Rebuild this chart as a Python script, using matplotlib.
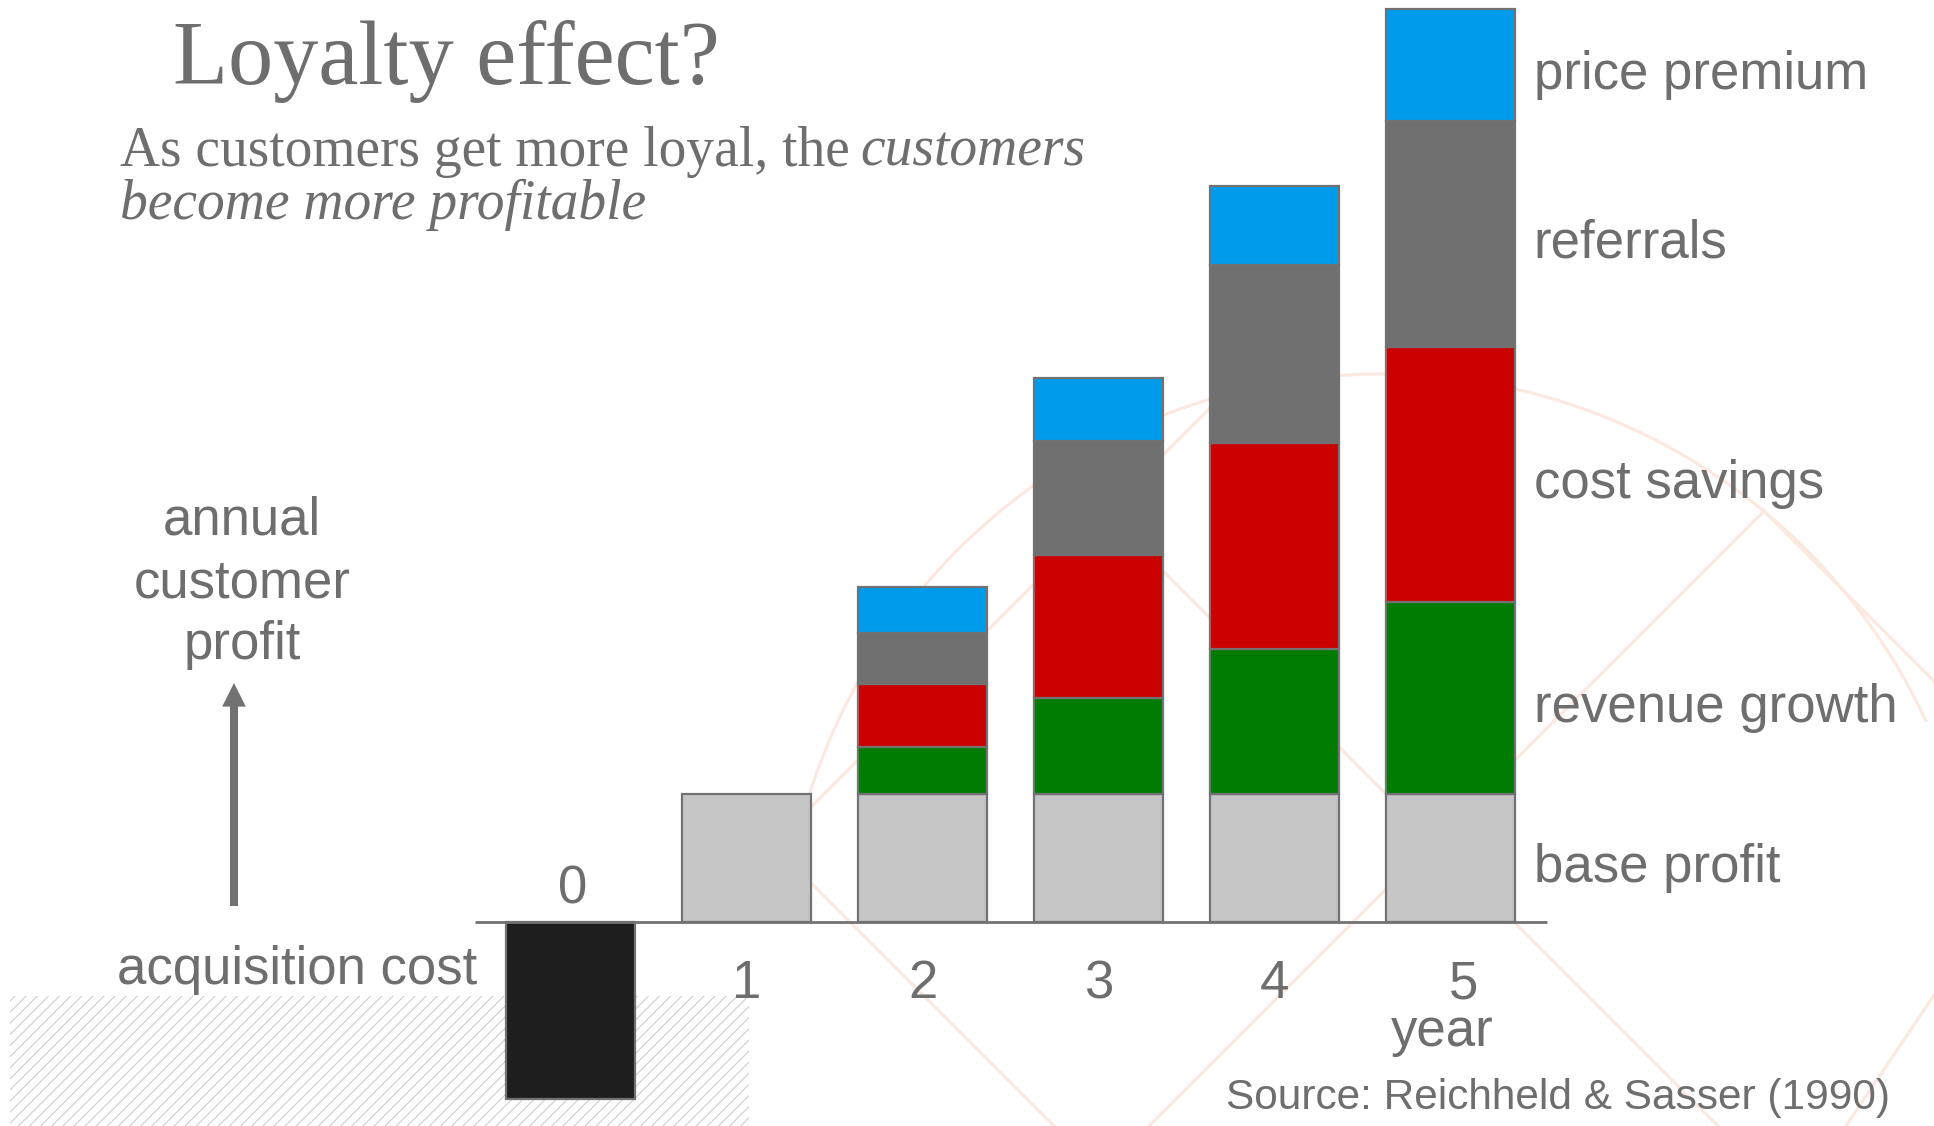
import matplotlib
matplotlib.use("Agg")
import matplotlib.pyplot as plt
import numpy as np
from matplotlib.lines import Line2D
from matplotlib.patches import Rectangle

# --- data (arbitrary profit units, base profit = 10) ---
years = [0, 1, 2, 3, 4, 5]
acquisition_cost = [-13.8]          # year 0
base_years = [1, 2, 3, 4, 5]
base_profit = [10, 10, 10, 10, 10]
growth_years = [2, 3, 4, 5]
revenue_growth = [3.7, 7.5, 11.3, 15.0]
cost_savings = [4.9, 11.2, 16.1, 19.9]
referrals = [4.0, 8.9, 13.9, 17.7]
price_premium = [3.6, 4.9, 6.2, 8.7]

segments = [
    ("revenue growth", revenue_growth, "#007c00"),
    ("cost savings", cost_savings, "#cc0000"),
    ("referrals", referrals, "#707070"),
    ("price premium", price_premium, "#009ceb"),
]

W, H = 1934, 1126
TXT = "#6e6e6e"
EDGE = "#727272"
SANS = "Liberation Sans"
SERIF = "Liberation Serif"
plt.rcParams["hatch.linewidth"] = 0.7

fig = plt.figure(figsize=(W / 100, H / 100), dpi=100)
fig.patch.set_facecolor("white")


def fx(x):
    return x / W


def fy(y):
    # y measured from the top of the picture
    return 1 - y / H


# faint watermark (logo) behind everything
wm = "#fde8e0"
th = np.radians(np.linspace(25, 170, 200))
fig.add_artist(Line2D(fx(1382 + 600 * np.cos(th)), fy(974 - 600 * np.sin(th)),
                      transform=fig.transFigure, color=wm, lw=2.2, zorder=-2))
for (x0, y0), (x1, y1) in [((773, 845), (1222, 396)), ((773, 845), (1054, 1126)),
                           ((1060, 468), (1718, 1126)), ((1764, 511), (1149, 1126)),
                           ((1764, 511), (1934, 681)), ((1934, 995), (1846, 1126))]:
    fig.add_artist(Line2D([fx(x0), fx(x1)], [fy(y0), fy(y1)], transform=fig.transFigure,
                          color=wm, lw=2.2, zorder=-2))

# hatched block bottom left
fig.add_artist(Rectangle((fx(10), 0), fx(739), (H - 996) / H, transform=fig.transFigure,
                         facecolor="white", edgecolor="#c8c8c8", hatch="///", lw=0, zorder=-1))

# axes spanning the whole figure: 176 px per year, 12.8 px per unit
ax = fig.add_axes([0, 0, 1, 1])
ax.patch.set_alpha(0)
x0_px, step = 570.8, 176.0
y0_px, unit = 922.0, 12.8
ax.set_xlim(-x0_px / step, (W - x0_px) / step)
ax.set_ylim(-(H - y0_px) / unit, y0_px / unit)
ax.axis("off")

bw = 0.733
ax.bar([0], acquisition_cost, width=bw, color="#1e1e1e", edgecolor=EDGE, lw=1.6, zorder=2)
ax.bar(base_years, base_profit, width=bw, color="#c6c6c6", edgecolor=EDGE, lw=1.6, zorder=2)
bottom = [10.0] * len(growth_years)
for name, vals, col in segments:
    ax.bar(growth_years, vals, bottom=bottom, width=bw, color=col, edgecolor=EDGE, lw=1.6, zorder=2)
    bottom = [b + v for b, v in zip(bottom, vals)]
ax.hlines(0, -0.545, 5.547, color=EDGE, lw=2.0, zorder=3)

# segment labels next to the year-5 bar
lab_x = 5 + bw / 2 + 0.105
acc = 0.0
for name, val in [("base profit", base_profit[-1])] + [(n, v[-1]) for n, v, _ in segments]:
    mid = acc + val / 2
    ax.annotate(name, (lab_x, mid), xytext=(0, -17), textcoords="offset points",
                ha="left", va="baseline", fontsize=38, color=TXT, family=SANS)
    acc += val

# year labels
for yr in years[1:]:
    dx = 9 if yr == 5 else 0
    ax.annotate(str(yr), (yr, 0), xytext=(dx, -55), textcoords="offset points",
                ha="center", va="baseline", fontsize=38, color=TXT, family=SANS)
ax.annotate("0", (0, 0), xytext=(1, 13), textcoords="offset points",
            ha="center", va="baseline", fontsize=38, color=TXT, family=SANS)
ax.annotate("year", (5, 0), xytext=(-6, -89), textcoords="offset points",
            ha="center", va="baseline", fontsize=38, color=TXT, family=SANS)

# left side annotation
for txt, yb in [("annual", 534), ("customer", 597), ("profit", 659)]:
    fig.text(fx(242), fy(yb), txt, ha="center", va="baseline", fontsize=38, color=TXT, family=SANS)
fig.text(fx(477), fy(984), "acquisition cost", ha="right", va="baseline",
         fontsize=38, color=TXT, family=SANS)
ax.annotate("", xy=(234, H - 683), xycoords="figure pixels",
            xytext=(234, H - 906), textcoords="figure pixels",
            arrowprops=dict(width=5.8, headwidth=17, headlength=17, shrink=0,
                            facecolor=EDGE, edgecolor="none"))

fig.text(fx(1890), fy(1109), "Source: Reichheld & Sasser (1990)", ha="right", va="baseline",
         fontsize=30.5, color=TXT, family=SANS)

# title and subtitle
fig.text(fx(173), fy(84), "Loyalty effect?", ha="left", va="baseline",
         fontsize=65, color=TXT, family=SERIF)
t1 = fig.text(fx(120), fy(166), "As customers get more loyal, the", ha="left", va="baseline",
              fontsize=40, color=TXT, family=SERIF)
fig.canvas.draw()
bb = t1.get_window_extent(fig.canvas.get_renderer())
fig.text((bb.x1 + 11) / W, fy(166), "customers", ha="left", va="baseline",
         fontsize=40, color=TXT, family=SERIF, style="italic")
fig.text(fx(120), fy(219), "become more profitable", ha="left", va="baseline",
         fontsize=40, color=TXT, family=SERIF, style="italic")

fig.savefig("out.png", dpi=100, facecolor="white")
